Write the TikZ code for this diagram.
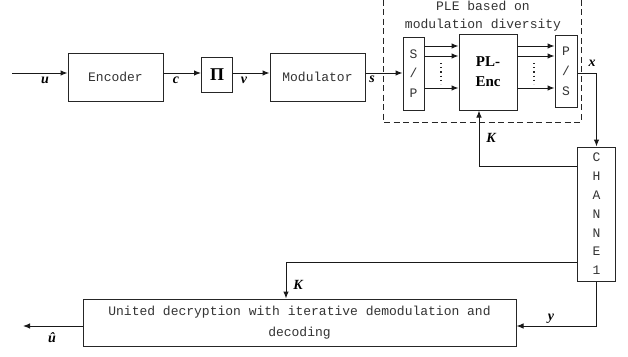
\documentclass[tikz,border=0pt]{standalone}
\usepackage{fontspec}
\usetikzlibrary{arrows.meta,calc}
\newfontfamily\labelmono{Liberation Mono}
\newfontfamily\labelserif{Liberation Serif}
\tikzset{
  blk/.style={draw=black!85, line width=1pt, inner sep=0pt, fill=white,
    font=\labelmono\fontsize{13}{18}\selectfont, text=black!80},
  arr/.style={draw=black!90, line width=1pt, -{Latex[length=7pt,width=5.5pt]}},
  sig/.style={font=\labelserif\bfseries\itshape\fontsize{14}{16}\selectfont, inner sep=0pt},
}
\begin{document}
\begin{tikzpicture}[x=1pt,y=-1pt]
\clip (0,0) rectangle (628,356);
\fill[white] (0,0) rectangle (628,356);

% PLE block outline and title
\draw[black!85, line width=1pt, dash pattern=on 6pt off 3.5pt] (383,-10) rectangle (581,122);
\node[font=\labelmono\fontsize{13}{18}\selectfont, text=black!80, align=center, inner sep=0pt]
  (plet) at (483,16) {PLE based on\\modulation diversity};

% blocks
\node[blk, minimum width=95pt, minimum height=48pt] (enc) at (115.5,77) {Encoder};
\node[blk, minimum width=31pt, minimum height=35pt, text=black,
  font=\labelserif\bfseries\fontsize{18}{18}\selectfont] (pi) at (217,74.5) {Π};
\node[blk, minimum width=95pt, minimum height=48pt] (mod) at (317.5,77) {Modulator};
\node[blk, minimum width=21pt, minimum height=73pt, align=center,
  font=\labelmono\fontsize{13}{19.5}\selectfont] (sp) at (413.5,73.5) {S\\/\\P};
\node[blk, minimum width=58pt, minimum height=76pt, align=center, text=black,
  font=\labelserif\bfseries\fontsize{15}{20}\selectfont] (plenc) at (488,72) {PL-\\Enc};
\node[blk, minimum width=22pt, minimum height=72pt, align=center,
  font=\labelmono\fontsize{13}{20}\selectfont] (ps) at (566,71) {P\\/\\S};
\node[blk, minimum width=38pt, minimum height=134pt, align=center,
  font=\labelmono\fontsize{13}{18.8}\selectfont] (ch) at (596.5,214) {C\\H\\A\\N\\N\\E\\1};
\node[blk, minimum width=433pt, minimum height=47pt, align=center,
  font=\labelmono\fontsize{13}{21}\selectfont] (dec) at (299.5,322.5)
  {United decryption with iterative demodulation and\\decoding};

% helper coordinates
\coordinate (row) at (0,73);
\coordinate (uin) at (12,73);
\coordinate (yrow) at (0,326);
\coordinate (uout) at (23,326);
\coordinate (kup) at (479,166);
\coordinate (kdn) at (286,262);
\coordinate (r1) at (0,46);
\coordinate (r2) at (0,56);
\coordinate (r3) at (0,88);

% forward chain
\draw[arr] (uin) -- (enc.west |- uin);
\draw[arr] (enc.east |- row) -- (pi.west |- row);
\draw[arr] (pi.east |- row) -- (mod.west |- row);
\draw[arr] (mod.east |- row) -- (sp.west |- row);

% parallel branches
\foreach \r in {r1,r2,r3}{
  \draw[arr] (sp.east |- \r) -- (plenc.west |- \r);
  \draw[arr] (plenc.east |- \r) -- (ps.west |- \r);
}
\coordinate (d1) at (441,0);
\coordinate (d2) at (534,0);
\foreach \d in {d1,d2}{
  \draw[black!85, line width=1.2pt, dash pattern=on 1.2pt off 3pt] ($(\d)+(0,63)$) -- ($(\d)+(0,84)$);
}

% channel input and outputs
\draw[arr] (ps.east |- row) -| (ch.north);
\draw[arr] (ch.west |- kup) -- (kup) -- (kup |- plenc.south);
\draw[arr] (ch.west |- kdn) -- (kdn) -- (kdn |- dec.north);
\draw[arr] (ch.south) |- (dec.east |- yrow);
\draw[arr] (dec.west |- yrow) -- (uout);

% signal labels
\node[sig] (lu) at (45,80) {u};
\node[sig] (lc) at (176,80) {c};
\node[sig] (lv) at (244,80) {v};
\node[sig] (ls) at (372,79) {s};
\node[sig] (lx) at (592,63) {x};
\node[sig] (lk1) at (491,138) {K};
\node[sig] (lk2) at (298,285) {K};
\node[sig] (ly) at (551,319) {y};
\node[sig] (luh) at (52,338) {\^u};
\end{tikzpicture}
\end{document}
